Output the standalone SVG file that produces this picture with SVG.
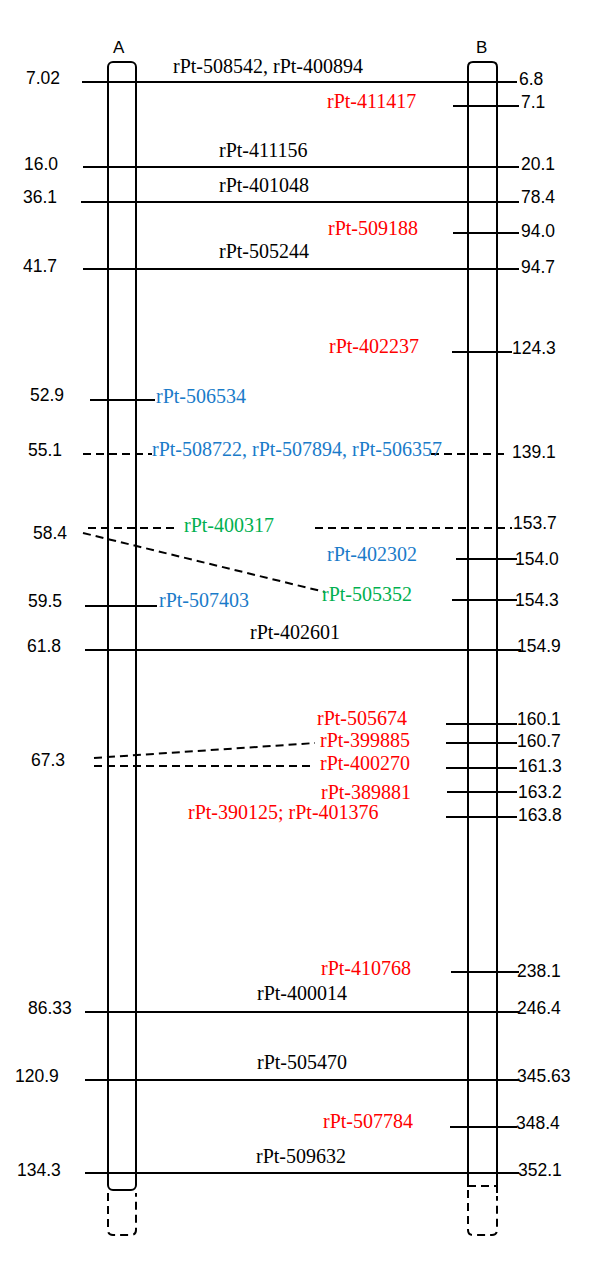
<svg xmlns="http://www.w3.org/2000/svg" width="600" height="1265" viewBox="0 0 600 1265">
<style>
.bar{fill:none;stroke:#000;stroke-width:2}
.dbar{fill:none;stroke:#000;stroke-width:2;stroke-dasharray:8,5}
.ln{stroke:#000;stroke-width:2;fill:none}
.dl{stroke:#000;stroke-width:2;fill:none;stroke-dasharray:8,5}
.num{font-family:"Liberation Sans",Arial,sans-serif;font-size:17.5px;fill:#000}
.hd{font-family:"Liberation Sans",Arial,sans-serif;font-size:17px;fill:#000}
.lb{font-family:"Liberation Serif","Times New Roman",serif;font-size:20px;fill:#000}
.r{fill:#ff0000}
.b{fill:#1a7bc9}
.g{fill:#00b050}
</style>
<rect width="600" height="1265" fill="#fff"/>
<g id="chromA">
<text class="hd" x="113" y="53">A</text>
<rect class="bar" x="108" y="62" width="28" height="1128" rx="5"/>
<path class="dbar" d="M108,1193 V1230 Q108,1235 113,1235 H131 Q136,1235 136,1230 V1193"/>
</g>
<g id="chromB">
<text class="hd" x="476" y="53">B</text>
<path class="bar" d="M468,1187 V67 Q468,62 473,62 H492 Q497,62 497,67 V1193"/>
<path class="dbar" d="M468,1186 H497 M468,1190 V1230 Q468,1235 473,1235 H492 Q497,1235 497,1230 V1196"/>
</g>
<g id="connectors">
<g id="m1"><line class="ln" x1="82" y1="82" x2="517" y2="82"/><text class="num" x="26" y="84">7.02</text><text class="num" x="519" y="85">6.8</text><text class="lb" x="173" y="73">rPt-508542, rPt-400894</text></g>
<g id="m2"><line class="ln" x1="453" y1="106" x2="519" y2="106"/><text class="num" x="521" y="108">7.1</text><text class="lb r" x="327" y="108">rPt-411417</text></g>
<g id="m3"><line class="ln" x1="83" y1="167" x2="519" y2="167"/><text class="num" x="24" y="170">16.0</text><text class="num" x="521" y="170">20.1</text><text class="lb" x="219" y="157">rPt-411156</text></g>
<g id="m4"><line class="ln" x1="81" y1="202" x2="519" y2="202"/><text class="num" x="23" y="203">36.1</text><text class="num" x="521" y="203">78.4</text><text class="lb" x="219" y="192">rPt-401048</text></g>
<g id="m5"><line class="ln" x1="453" y1="233" x2="519" y2="233"/><text class="num" x="521" y="237">94.0</text><text class="lb r" x="328" y="235">rPt-509188</text></g>
<g id="m6"><line class="ln" x1="83" y1="269" x2="519" y2="269"/><text class="num" x="23" y="272">41.7</text><text class="num" x="521" y="273">94.7</text><text class="lb" x="219" y="258">rPt-505244</text></g>
<g id="m7"><line class="ln" x1="452" y1="352" x2="512" y2="352"/><text class="num" x="512" y="354">124.3</text><text class="lb r" x="329" y="353">rPt-402237</text></g>
<g id="m8"><line class="ln" x1="90" y1="400" x2="155" y2="400"/><text class="num" x="30" y="401">52.9</text><text class="lb b" x="156" y="403">rPt-506534</text></g>
<g id="m9"><line class="dl" x1="83" y1="454" x2="152" y2="454"/><line class="dl" x1="431" y1="454" x2="505" y2="454"/><text class="num" x="28" y="456">55.1</text><text class="num" x="512" y="458">139.1</text><text class="lb b" x="152" y="456">rPt-508722, rPt-507894, rPt-506357</text></g>
<g id="m10"><line class="dl" x1="88" y1="528" x2="177" y2="528"/><line class="dl" x1="315" y1="528" x2="512" y2="528"/><path class="dl" d="M83,533 L325,592"/><text class="num" x="33" y="539">58.4</text><text class="num" x="513" y="529">153.7</text><text class="lb g" x="184" y="532">rPt-400317</text></g>
<g id="m11"><line class="ln" x1="456" y1="559" x2="517" y2="559"/><text class="num" x="515" y="565">154.0</text><text class="lb b" x="327" y="561">rPt-402302</text></g>
<g id="m12"><line class="ln" x1="452" y1="600" x2="517" y2="600"/><text class="num" x="515" y="606">154.3</text><text class="lb g" x="322" y="601">rPt-505352</text></g>
<g id="m13"><line class="ln" x1="85" y1="606" x2="157" y2="606"/><text class="num" x="28" y="607">59.5</text><text class="lb b" x="159" y="607">rPt-507403</text></g>
<g id="m14"><line class="ln" x1="85" y1="650" x2="521" y2="650"/><text class="num" x="27" y="652">61.8</text><text class="num" x="517" y="652">154.9</text><text class="lb" x="250" y="639">rPt-402601</text></g>
<g id="m15"><line class="ln" x1="446" y1="724" x2="517" y2="724"/><text class="num" x="517" y="725">160.1</text><text class="lb r" x="317" y="725">rPt-505674</text></g>
<g id="m16"><line class="ln" x1="446" y1="743" x2="517" y2="743"/><text class="num" x="517" y="747">160.7</text><text class="lb r" x="320" y="747">rPt-399885</text></g>
<g id="m17"><path class="dl" d="M94,758 L315,743"/><line class="dl" x1="94" y1="766" x2="315" y2="766"/><text class="num" x="31" y="766">67.3</text></g>
<g id="m18"><line class="ln" x1="446" y1="768" x2="517" y2="768"/><text class="num" x="518" y="772">161.3</text><text class="lb r" x="320" y="770">rPt-400270</text></g>
<g id="m19"><line class="ln" x1="447" y1="792" x2="517" y2="792"/><text class="num" x="518" y="798">163.2</text><text class="lb r" x="321" y="799">rPt-389881</text></g>
<g id="m20"><line class="ln" x1="446" y1="817" x2="517" y2="817"/><text class="num" x="518" y="821">163.8</text><text class="lb r" x="188" y="819">rPt-390125; rPt-401376</text></g>
<g id="m21"><line class="ln" x1="451" y1="972" x2="519" y2="972"/><text class="num" x="517" y="977">238.1</text><text class="lb r" x="321" y="975">rPt-410768</text></g>
<g id="m22"><line class="ln" x1="85" y1="1012" x2="519" y2="1012"/><text class="num" x="28" y="1014">86.33</text><text class="num" x="517" y="1014">246.4</text><text class="lb" x="257" y="1000">rPt-400014</text></g>
<g id="m23"><line class="ln" x1="85" y1="1080" x2="519" y2="1080"/><text class="num" x="15" y="1082">120.9</text><text class="num" x="517" y="1082">345.63</text><text class="lb" x="257" y="1069">rPt-505470</text></g>
<g id="m24"><line class="ln" x1="450" y1="1127" x2="517" y2="1127"/><text class="num" x="516" y="1129">348.4</text><text class="lb r" x="323" y="1128">rPt-507784</text></g>
<g id="m25"><line class="ln" x1="85" y1="1173" x2="519" y2="1173"/><text class="num" x="17" y="1176">134.3</text><text class="num" x="518" y="1176">352.1</text><text class="lb" x="256" y="1163">rPt-509632</text></g>
</g>
</svg>
